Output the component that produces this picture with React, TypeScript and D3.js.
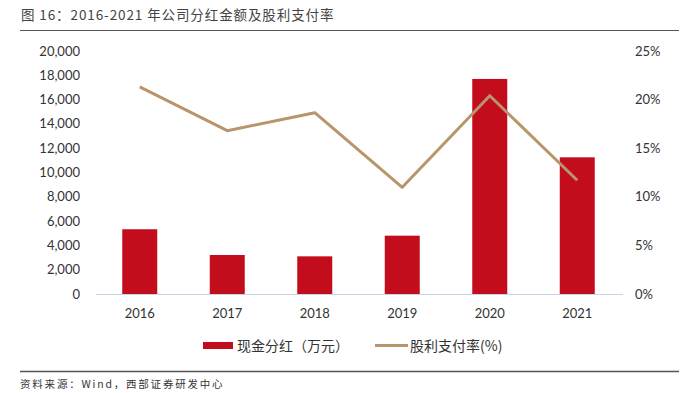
import React from 'react';
import * as d3 from 'd3';

const years = ['2016', '2017', '2018', '2019', '2020', '2021'];
const dividend = [5330, 3210, 3100, 4800, 17700, 11250];
const payoutRatio = [21.3, 16.8, 18.65, 10.98, 20.4, 11.7];
const leftTicks = [0, 2000, 4000, 6000, 8000, 10000, 12000, 14000, 16000, 18000, 20000];
const rightTicks = [0, 5, 10, 15, 20, 25];

const W = 691;
const H = 393;
const margin = { top: 51, right: 70, bottom: 99, left: 96 };

export default function App() {
  const x = d3.scaleBand().domain(years).range([margin.left, W - margin.right]).paddingInner(0.6).paddingOuter(0.3);
  const y = d3.scaleLinear().domain([0, 20000]).range([H - margin.bottom, margin.top]);
  const y2 = d3.scaleLinear().domain([0, 25]).range([H - margin.bottom, margin.top]);
  const fmt = d3.format(',');

  const line = d3.line<number>()
    .x((d, i) => (x(years[i]) as number) + x.bandwidth() / 2)
    .y(d => y2(d));

  const tickFont = { fontFamily: 'Lato, sans-serif', fontSize: 13, fill: '#333' };
  const cjk = 'Noto Sans CJK SC, sans-serif';

  return (
    <svg width={W} height={H} style={{ position: 'absolute', left: 0, top: 0, background: '#fff' }}>
      <text x={21} y={20} fontFamily={cjk} fontSize={13.5} letterSpacing={0.9} fill="#444">图 16：2016-2021 年公司分红金额及股利支付率</text>
      <line x1={20} x2={679} y1={30.5} y2={30.5} stroke="#555" strokeWidth={1} />

      {leftTicks.map(t => (
        <text key={'l' + t} x={80} y={y(t)} dy="0.35em" textAnchor="end" {...tickFont}>{fmt(t)}</text>
      ))}
      {rightTicks.map(t => (
        <text key={'r' + t} x={635} y={y2(t)} dy="0.35em" textAnchor="start" {...tickFont}>{t + '%'}</text>
      ))}

      {years.map((yr, i) => (
        <rect key={yr} x={x(yr)} y={y(dividend[i])} width={x.bandwidth()} height={y(0) - y(dividend[i])} fill="#C30D1D" />
      ))}

      <line x1={margin.left} x2={W - margin.right + 2} y1={y(0) + 0.5} y2={y(0) + 0.5} stroke="#C9D5E8" strokeWidth={1} />

      {years.map(yr => (
        <text key={'x' + yr} x={(x(yr) as number) + x.bandwidth() / 2} y={313} dy="0.35em" textAnchor="middle" {...tickFont}>{yr}</text>
      ))}

      <path d={line(payoutRatio) || ''} fill="none" stroke="#B8956C" strokeWidth={3} strokeLinejoin="round" />

      <rect x={203} y={342} width={30} height={7} fill="#C30D1D" />
      <text x={237} y={346} dy="0.35em" fontFamily={cjk} fontSize={14} fill="#333">现金分红（万元）</text>
      <line x1={375} x2={408} y1={345.5} y2={345.5} stroke="#B8956C" strokeWidth={3} />
      <text x={410} y={346} dy="0.35em" fontFamily={cjk} fontSize={14} fill="#333">股利支付率(%)</text>

      <line x1={20} x2={679} y1={371.5} y2={371.5} stroke="#555" strokeWidth={1.5} />
      <text x={20} y={388} fontFamily={cjk} fontSize={10.5} letterSpacing={1.8} fill="#333">资料来源：Wind，西部证券研发中心</text>
    </svg>
  );
}
